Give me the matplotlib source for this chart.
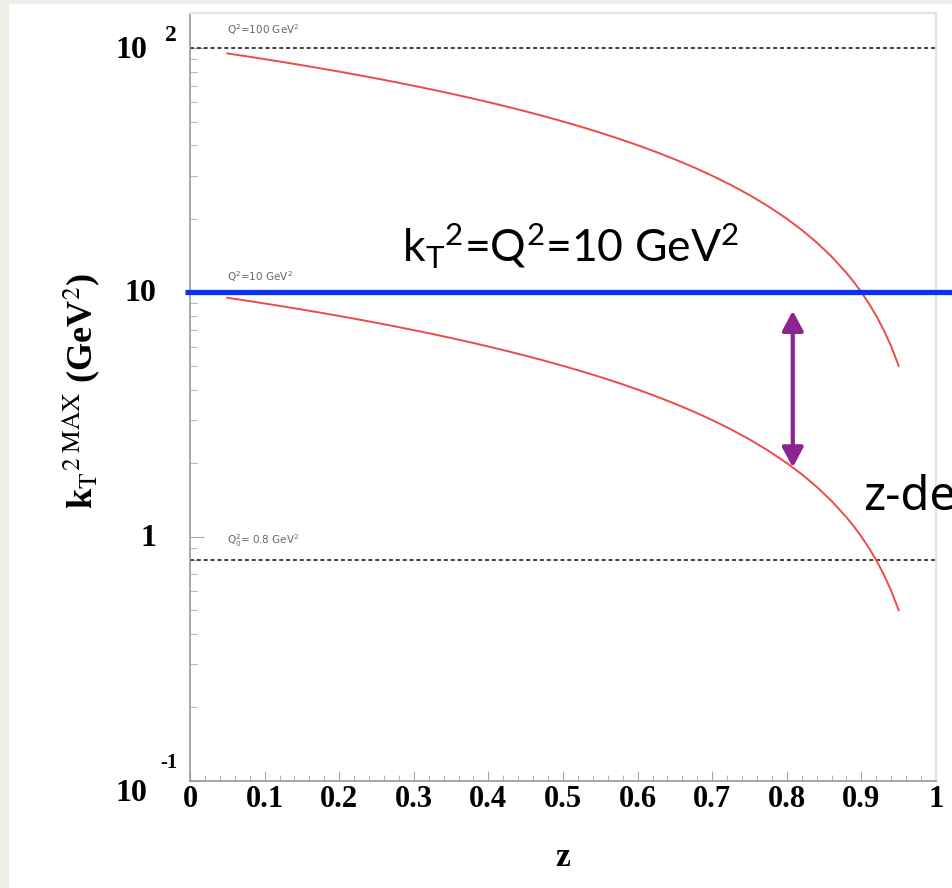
import numpy as np
import matplotlib
matplotlib.use("Agg")
import matplotlib.pyplot as plt
import matplotlib.transforms as mtransforms
from matplotlib.patches import Rectangle
from matplotlib.ticker import MultipleLocator, LogLocator, NullFormatter

# values
z = [0.05, 0.075, 0.10, 0.125, 0.15, 0.175, 0.20, 0.225, 0.25, 0.275,
     0.30, 0.325, 0.35, 0.375, 0.40, 0.425, 0.45, 0.475, 0.50, 0.525,
     0.55, 0.575, 0.60, 0.625, 0.65, 0.675, 0.70, 0.725, 0.75, 0.775,
     0.80, 0.82, 0.84, 0.86, 0.88, 0.89, 0.90, 0.91, 0.92, 0.93,
     0.94, 0.95]
kt2max_q100 = [95, 92.5, 90, 87.5, 85, 82.5, 80, 77.5, 75, 72.5,
               70, 67.5, 65, 62.5, 60, 57.5, 55, 52.5, 50, 47.5,
               45, 42.5, 40, 37.5, 35, 32.5, 30, 27.5, 25, 22.5,
               20, 18, 16, 14, 12, 11, 10, 9, 8, 7,
               6, 5]
kt2max_q10 = [9.5, 9.25, 9.0, 8.75, 8.5, 8.25, 8.0, 7.75, 7.5, 7.25,
              7.0, 6.75, 6.5, 6.25, 6.0, 5.75, 5.5, 5.25, 5.0, 4.75,
              4.5, 4.25, 4.0, 3.75, 3.5, 3.25, 3.0, 2.75, 2.5, 2.25,
              2.0, 1.8, 1.6, 1.4, 1.2, 1.1, 1.0, 0.9, 0.8, 0.7,
              0.6, 0.5]
ref_levels = [100, 10, 0.8]
ref_labels = [r"Q$^2$=100 GeV$^2$", r"Q$^2$=10 GeV$^2$", r"Q$_0^2$= 0.8 GeV$^2$"]
ref_label_offsets = [13, 11, 14]
blue_level = 10
arrow_z = 0.808
arrow_top, arrow_bottom = 8.4, 1.92
ytick_vals = [100, 10, 1, 0.1]
xticks = [0, 0.1, 0.2, 0.3, 0.4, 0.5, 0.6, 0.7, 0.8, 0.9, 1]

W, H = 952, 888
fig = plt.figure(figsize=(W / 100, H / 100), dpi=100, facecolor="#efeee7")
fig.patches.append(Rectangle((9 / W, 0), 1, 1 - 4 / H, transform=fig.transFigure,
                             facecolor="white", edgecolor="none", zorder=-5))

x0, x1, ytop, ybot = 190, 936, 13, 781
ax = fig.add_axes([x0 / W, 1 - ybot / H, (x1 - x0) / W, (ybot - ytop) / H])
ax.set_zorder(1)
ax.set_facecolor("white")
ax.set_yscale("log")
ax.set_xlim(0, 1)
ax.set_ylim(0.1, 139)

serif = "Liberation Serif"

# red curves
ax.plot(z, kt2max_q100, color="#ef4a4a", lw=1.4, zorder=3)
ax.plot(z, kt2max_q10, color="#ef4a4a", lw=1.4, zorder=3)

# dashed reference lines with small labels
for lev, lab, off in zip(ref_levels, ref_labels, ref_label_offsets):
    ax.axhline(lev, color="#333333", lw=1.3, ls=(0, (2.2, 1.6)), zorder=2)
    ax.annotate(lab, xy=(0.05, lev), xytext=(0, off), textcoords="offset points",
                fontsize=7.5, color="#666666", ha="left", va="center")

# blue line extending past the frame
bt = mtransforms.blended_transform_factory(ax.transAxes, ax.transData)
ax.plot([-5 / 746, 770 / 746], [blue_level, blue_level], transform=bt,
        color="#0a32f5", lw=3.8, clip_on=False, zorder=4, solid_capstyle="butt")

# purple double arrow
ax.annotate("", xy=(arrow_z, arrow_bottom), xytext=(arrow_z, arrow_top),
            arrowprops=dict(arrowstyle="<|-|>,head_length=0.6,head_width=0.32",
                            mutation_scale=20, color="#8b2391", lw=3,
                            shrinkA=0, shrinkB=0), zorder=5)

# slide annotations
plt.rcParams["mathtext.fontset"] = "custom"
plt.rcParams["mathtext.rm"] = "Lato"
plt.rcParams["mathtext.it"] = "Lato"
ax.text(0.284, 13.3, r"k$_\mathrm{T}$$^\mathrm{2}$=Q$^\mathrm{2}$=10 GeV$^\mathrm{2}$",
        fontsize=32, family="Lato", ha="left", va="baseline",
        math_fontfamily="custom", zorder=6)
ax.text(0.902, 1.45, "z-de", fontsize=34, family="Noto Sans", ha="left",
        va="center", clip_on=False, zorder=6)

# axes styling (ROOT-like)
for side in ["left", "bottom"]:
    ax.spines[side].set_color("#9a9a9a")
    ax.spines[side].set_linewidth(1.2)
for side in ["top", "right"]:
    ax.spines[side].set_color("#e2e2e2")
    ax.spines[side].set_linewidth(1.5)

ax.xaxis.set_major_locator(MultipleLocator(0.1))
ax.xaxis.set_minor_locator(MultipleLocator(0.02))
ax.set_xticks(xticks)
ax.set_xticklabels(["0" if v == 0 else ("1" if v == 1 else f"{v:.1f}") for v in xticks],
                   fontfamily=serif, fontweight="bold", fontsize=22)
ax.tick_params(axis="x", which="major", direction="in", length=7, color="#aaaaaa", pad=3)
ax.tick_params(axis="x", which="minor", direction="in", length=4, color="#aaaaaa")
ax.tick_params(axis="x", top=False)

ax.yaxis.set_major_locator(LogLocator(base=10, numticks=10))
ax.yaxis.set_minor_locator(LogLocator(base=10, subs=np.arange(2, 10), numticks=10))
ax.yaxis.set_major_formatter(NullFormatter())
ax.yaxis.set_minor_formatter(NullFormatter())
ax.tick_params(axis="y", which="major", direction="in", length=10, color="#aaaaaa")
ax.tick_params(axis="y", which="minor", direction="in", length=5, color="#aaaaaa")
ax.tick_params(axis="y", right=False)

# y tick labels in ROOT style ("10" with the exponent set apart)
yt = mtransforms.blended_transform_factory(ax.transAxes, ax.transData)
for v in ytick_vals:
    if v == 100:
        ax.annotate("10", xy=(0, v), xycoords=yt, xytext=(-31, -2), textcoords="offset points",
                    ha="right", va="center", fontsize=23, family=serif, fontweight="bold")
        ax.annotate("2", xy=(0, v), xycoords=yt, xytext=(-14, 9), textcoords="offset points",
                    ha="center", va="center", fontsize=17, family=serif, fontweight="bold")
    elif v == 0.1:
        ax.annotate("10", xy=(0, v), xycoords=yt, xytext=(-31, -9), textcoords="offset points",
                    ha="right", va="center", fontsize=23, family=serif, fontweight="bold")
        ax.annotate("-1", xy=(0, v), xycoords=yt, xytext=(-15, 13), textcoords="offset points",
                    ha="center", va="center", fontsize=15, family=serif, fontweight="bold")
    else:
        ax.annotate(f"{v:g}", xy=(0, v), xycoords=yt, xytext=(-24, -1), textcoords="offset points",
                    ha="right", va="center", fontsize=23, family=serif, fontweight="bold")

ax.set_xlabel("z", fontfamily=serif, fontweight="bold", fontsize=24, labelpad=20)
ax.set_ylabel(r"k$_\mathrm{T}$$^\mathrm{2\ MAX}$ (GeV$^\mathrm{2}$)", fontfamily=serif,
              fontweight="bold", fontsize=26, math_fontfamily="stix")
ax.yaxis.set_label_coords(-0.117, 0.508)

fig.savefig("out.png", dpi=100, facecolor=fig.get_facecolor())
